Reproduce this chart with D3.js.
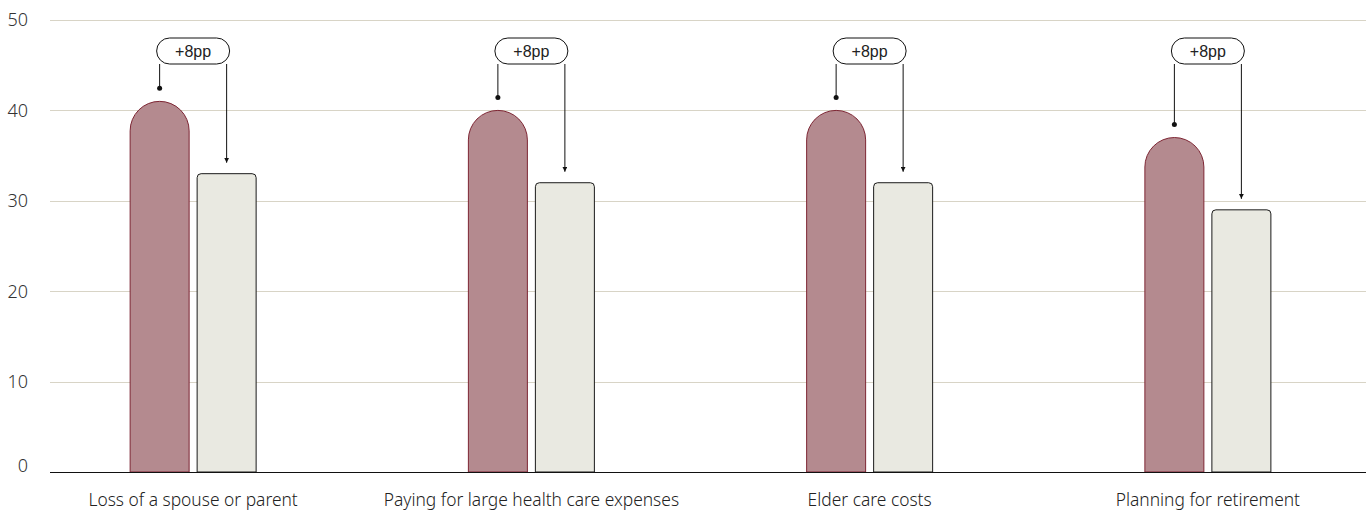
<!DOCTYPE html>
<html>
<head>
<meta charset="utf-8">
<script src="https://cdn.jsdelivr.net/npm/d3@7"></script>
<style>
  html, body { margin: 0; padding: 0; background: #ffffff; }
  svg { display: block; }
</style>
</head>
<body>
<svg id="chart" width="1366" height="511"></svg>
<script>
// Concerns compared across two groups; first series is the highlighted group
const categories = [
  "Loss of a spouse or parent",
  "Paying for large health care expenses",
  "Elder care costs",
  "Planning for retirement"
];
const seriesA = [41, 40, 40, 37];
const seriesB = [33, 32, 32, 29];
const diffLabels = ["+8pp", "+8pp", "+8pp", "+8pp"];
const yTicks = [0, 10, 20, 30, 40, 50];

const svg = d3.select("#chart");
const plotLeft = 50, plotRight = 1366;
const yTop = 20, yBottom = 472;

const x = d3.scaleBand()
  .domain(categories)
  .range([24, 1377])
  .padding(0);

const y = d3.scaleLinear().domain([0, 50]).range([yBottom, yTop]);

const barW = 59, gap = 8;
const fontMain = "'Noto Sans', 'Open Sans', sans-serif";

// gridlines
svg.append("g")
  .selectAll("line")
  .data(yTicks.filter(t => t > 0))
  .join("line")
  .attr("x1", plotLeft).attr("x2", plotRight)
  .attr("y1", d => Math.round(y(d)) + 0.5).attr("y2", d => Math.round(y(d)) + 0.5)
  .attr("stroke", "#d8d4c6").attr("stroke-width", 1);

// y tick labels
svg.append("g")
  .selectAll("text")
  .data(yTicks)
  .join("text")
  .attr("x", 28)
  .attr("y", d => (d === 0 ? y(d) - 6 : y(d)))
  .attr("dy", "0.35em")
  .attr("text-anchor", "end")
  .attr("font-family", fontMain)
  .attr("font-weight", 300)
  .attr("font-size", 18)
  .attr("fill", "#333")
  .text(d => d);

// arrow marker
const defs = svg.append("defs");
defs.append("marker")
  .attr("id", "arrow")
  .attr("viewBox", "0 0 10 10")
  .attr("refX", 10).attr("refY", 5)
  .attr("markerWidth", 5).attr("markerHeight", 5)
  .attr("orient", "auto")
  .append("path")
  .attr("d", "M0,0 L10,5 L0,10 Z")
  .attr("fill", "#111");

const groups = svg.append("g")
  .selectAll("g")
  .data(categories.map((c, i) => ({ c, a: seriesA[i], b: seriesB[i], lab: diffLabels[i] })))
  .join("g");

const cx = d => x(d.c) + x.bandwidth() / 2;
const ax0 = d => cx(d) - gap / 2 - barW;
const bx0 = d => cx(d) + gap / 2;

// highlighted bars: rounded (semicircular) top
groups.append("path")
  .attr("d", d => {
    const x0 = ax0(d), x1 = x0 + barW, r = barW / 2;
    const top = y(d.a), base = y(0);
    return `M${x0},${base} L${x0},${top + r} A${r},${r} 0 0 1 ${x1},${top + r} L${x1},${base} Z`;
  })
  .attr("fill", "#b48a8f")
  .attr("stroke", "#7d2533")
  .attr("stroke-width", 1);

// comparison bars: slightly rounded corners
groups.append("path")
  .attr("d", d => {
    const x0 = bx0(d), x1 = x0 + barW, r = 4;
    const top = y(d.b), base = y(0);
    return `M${x0},${base} L${x0},${top + r} Q${x0},${top} ${x0 + r},${top} L${x1 - r},${top} Q${x1},${top} ${x1},${top + r} L${x1},${base} Z`;
  })
  .attr("fill", "#e9e9e1")
  .attr("stroke", "#1a1a1a")
  .attr("stroke-width", 1);

// difference annotation
const boxTop = 38, boxH = 26;
groups.each(function (d) {
  const g = d3.select(this);
  const lx = ax0(d) + barW / 2;
  const rx = bx0(d) + barW / 2;
  const bx = lx - 3, bw = rx - lx + 6;
  g.append("line")
    .attr("x1", lx).attr("x2", lx)
    .attr("y1", boxTop + boxH).attr("y2", y(d.a) - 13)
    .attr("stroke", "#111").attr("stroke-width", 1);
  g.append("circle")
    .attr("cx", lx).attr("cy", y(d.a) - 13).attr("r", 2.5)
    .attr("fill", "#111");
  g.append("line")
    .attr("x1", rx).attr("x2", rx)
    .attr("y1", boxTop + boxH).attr("y2", y(d.b) - 11)
    .attr("stroke", "#111").attr("stroke-width", 1)
    .attr("marker-end", "url(#arrow)");
  g.append("rect")
    .attr("x", bx).attr("y", boxTop)
    .attr("width", bw).attr("height", boxH)
    .attr("rx", 13).attr("ry", 13)
    .attr("fill", "#fff").attr("stroke", "#111").attr("stroke-width", 1);
  g.append("text")
    .attr("x", bx + bw / 2).attr("y", boxTop + boxH / 2 + 5.5)
    .attr("text-anchor", "middle")
    .attr("font-family", "'Liberation Sans', Arial, sans-serif")
    .attr("font-size", 16)
    .attr("fill", "#222")
    .text(d.lab);
});

// baseline
svg.append("line")
  .attr("x1", plotLeft).attr("x2", plotRight)
  .attr("y1", y(0) + 0.5).attr("y2", y(0) + 0.5)
  .attr("stroke", "#111").attr("stroke-width", 1.2);

// category labels
svg.append("g")
  .selectAll("text")
  .data(categories)
  .join("text")
  .attr("x", d => x(d) + x.bandwidth() / 2)
  .attr("y", 506)
  .attr("text-anchor", "middle")
  .attr("font-family", fontMain)
  .attr("font-weight", 300)
  .attr("font-size", 17.4)
  .attr("fill", "#222")
  .text(d => d);
</script>
</body>
</html>
